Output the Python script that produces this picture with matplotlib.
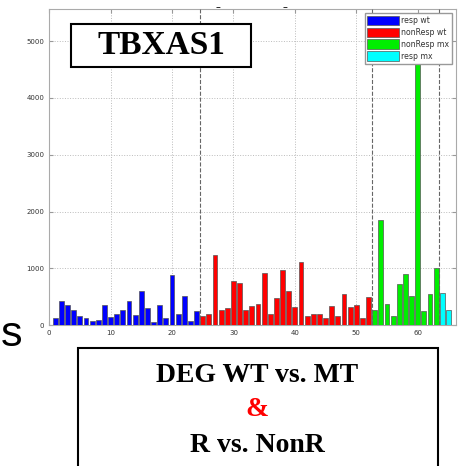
import matplotlib
matplotlib.use('Agg')
import matplotlib.pyplot as plt
from matplotlib.patches import Patch

# sample index ranges per group
resp_wt_x = list(range(1, 25))
nonresp_wt_x = list(range(25, 53))
nonresp_mx_x = list(range(53, 64))
resp_mx_x = [64, 65]

resp_wt = [130, 430, 360, 265, 165, 130, 75, 90, 355, 150, 200, 270,
           425, 180, 595, 310, 55, 360, 135, 890, 200, 510, 75, 255]
nonresp_wt = [165, 190, 1240, 265, 300, 780, 740, 275, 340, 380, 925, 205,
              480, 970, 600, 325, 1115, 165, 190, 200, 120, 345, 165, 555,
              320, 350, 135, 490]
nonresp_mx = [265, 1850, 380, 165, 730, 895, 510, 5200, 255, 555, 1000]
resp_mx = [560, 265]

group_edges = [24.5, 52.5, 63.5]
labels = ['resp wt', 'nonResp wt', 'nonResp mx', 'resp mx']
colors = ['#0000ff', '#ff0000', '#00ee00', '#00ffff']

fig = plt.figure(figsize=(4.68, 4.66), dpi=100)
ax = fig.add_axes([0.105, 0.302, 0.869, 0.678])

series = [(resp_wt_x, resp_wt), (nonresp_wt_x, nonresp_wt),
          (nonresp_mx_x, nonresp_mx), (resp_mx_x, resp_mx)]
for (xs, ys), c in zip(series, colors):
    ax.bar(xs, ys, width=0.8, color=c, edgecolor='#555555', linewidth=0.5,
           zorder=3)

for e in group_edges:
    ax.axvline(e, color='#666666', linestyle='--', linewidth=0.8, zorder=4)

ax.set_xlim(0, 66.2)
ax.set_ylim(0, 5560)
ax.set_xticks(range(0, 61, 10))
ax.set_yticks(range(0, 5001, 1000))
ax.grid(True, linestyle=':', color='#bbbbbb', linewidth=0.7, zorder=0)
ax.tick_params(direction='in', labelsize=5, length=3, colors='#999999',
               labelcolor='#333333', top=True, right=True)
for s in ax.spines.values():
    s.set_color('#aaaaaa')

handles = [Patch(facecolor=c, edgecolor='#555555', linewidth=0.5)
           for c in colors]
leg = ax.legend(handles, labels, loc='upper right', prop={'size': 5.6},
                handlelength=4.0, handleheight=1.5, borderpad=0.35,
                labelspacing=0.3, handletextpad=0.3, framealpha=1,
                fancybox=False, edgecolor='#999999', borderaxespad=0,
                bbox_to_anchor=(0.99, 0.988))
for t in leg.get_texts():
    t.set_color('#333333')
leg.set_zorder(10)

# gene name box
box = plt.Rectangle((71 / 468, 1 - 67 / 466), 180 / 468, 43 / 466,
                    transform=fig.transFigure, facecolor='white',
                    edgecolor='black', linewidth=1.5, zorder=5)
fig.add_artist(box)
fig.text(161 / 468, 1 - 46 / 466, 'TBXAS1', family='Liberation Serif',
         weight='bold', fontsize=24, ha='center', va='center', zorder=6)

# caption box
cap = plt.Rectangle((78 / 468, -0.02), 360 / 468, 0.273,
                    transform=fig.transFigure, facecolor='white',
                    edgecolor='black', linewidth=1.5)
fig.add_artist(cap)
fig.text(0.55, 1 - 376 / 466, 'DEG WT vs. MT', family='Liberation Serif',
         weight='bold', fontsize=20, ha='center', va='center')
fig.text(0.55, 1 - 410 / 466, '&', family='Liberation Serif',
         weight='bold', fontsize=20, ha='center', va='center', color='red')
fig.text(0.55, 1 - 446 / 466, 'R vs. NonR', family='Liberation Serif',
         weight='bold', fontsize=20, ha='center', va='center')

# slide text fragments around the chart
fig.text(0.002, 1 - 346 / 466, 's', family='Liberation Sans',
         fontsize=31, ha='left', va='baseline')
fig.text(218 / 468, 0.985, '\u2013', fontsize=7, ha='center', va='center')
fig.text(285 / 468, 0.985, '\u2013', fontsize=7, ha='center', va='center')

fig.savefig('out.png', dpi=100)
